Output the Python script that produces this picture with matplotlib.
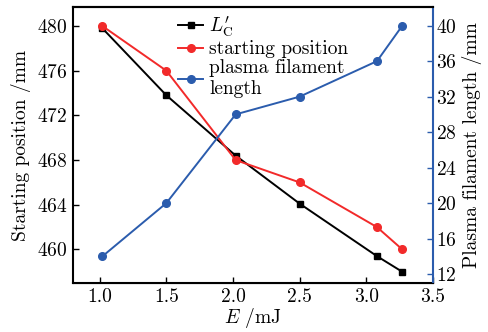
import matplotlib
matplotlib.use("Agg")
import matplotlib.pyplot as plt

plt.rcParams['font.family'] = 'serif'
plt.rcParams['font.serif'] = ['cmr10', 'DejaVu Serif']
plt.rcParams['mathtext.fontset'] = 'cm'
plt.rcParams['axes.formatter.use_mathtext'] = True
plt.rcParams['axes.unicode_minus'] = False

energy = [1.02, 1.5, 2.02, 2.5, 3.08, 3.27]
lc_prime = [479.8, 473.8, 468.4, 464.1, 459.4, 458.0]
start_pos = [480.0, 476.0, 468.0, 466.0, 462.0, 460.0]
filament_len = [14, 20, 30, 32, 36, 40]

x_ticks = [1.0, 1.5, 2.0, 2.5, 3.0, 3.5]
left_ticks = [460, 464, 468, 472, 476, 480]
right_ticks = [12, 16, 20, 24, 28, 32, 36, 40]

BLUE = '#2b5cad'
RED = '#f22a2a'
FS = 14

fig = plt.figure(figsize=(4.88, 3.32), dpi=100)
ax = fig.add_axes([73/488, 1-283/332, (433-73)/488, (283-7)/332])
ax2 = ax.twinx()

l1, = ax.plot(energy, lc_prime, color='black', marker='s', ms=4.8, lw=1.4, label=r"$L_{\rm C}^{\prime}$")
l2, = ax.plot(energy, start_pos, color=RED, marker='o', ms=5.5, lw=1.4, label='starting position')
l3, = ax2.plot(energy, filament_len, color=BLUE, marker='o', ms=5.5, lw=1.4, label='plasma filament\nlength')

ax.set_xlim(0.8, 3.5)
ax.set_ylim(457.0, 481.7)
ax2.set_ylim(11.0, 42.1)
ax.set_xticks(x_ticks)
ax.set_yticks(left_ticks)
ax2.set_yticks(right_ticks)
ax.set_xticklabels([f"{v:.1f}" for v in x_ticks])

ax.tick_params(direction='in', labelsize=FS, length=4, width=1, pad=4)
ax2.tick_params(direction='in', labelsize=FS, length=4, width=1, colors=BLUE, labelcolor='black', pad=2)
for s in ['left', 'bottom', 'top']:
    ax.spines[s].set_linewidth(1.5)
ax2.spines['right'].set_color(BLUE)
ax2.spines['right'].set_linewidth(1.5)
ax2.spines['top'].set_linewidth(1.5)
ax2.spines['left'].set_visible(False)
ax.spines['right'].set_visible(False)

ax.set_xlabel(r"$E$ /mJ", fontsize=FS, labelpad=0)
ax.set_ylabel("Starting position /mm", fontsize=FS, labelpad=4)
ax2.set_ylabel("Plasma filament length /mm", fontsize=FS, labelpad=4)

leg = ax.legend(handles=[l1, l2, l3], loc='upper left', bbox_to_anchor=(0.27, 1.0),
                frameon=False, fontsize=FS, handlelength=1.3, handletextpad=0.3,
                labelspacing=0.05, borderaxespad=0)

fig.savefig("out.png", dpi=100)
